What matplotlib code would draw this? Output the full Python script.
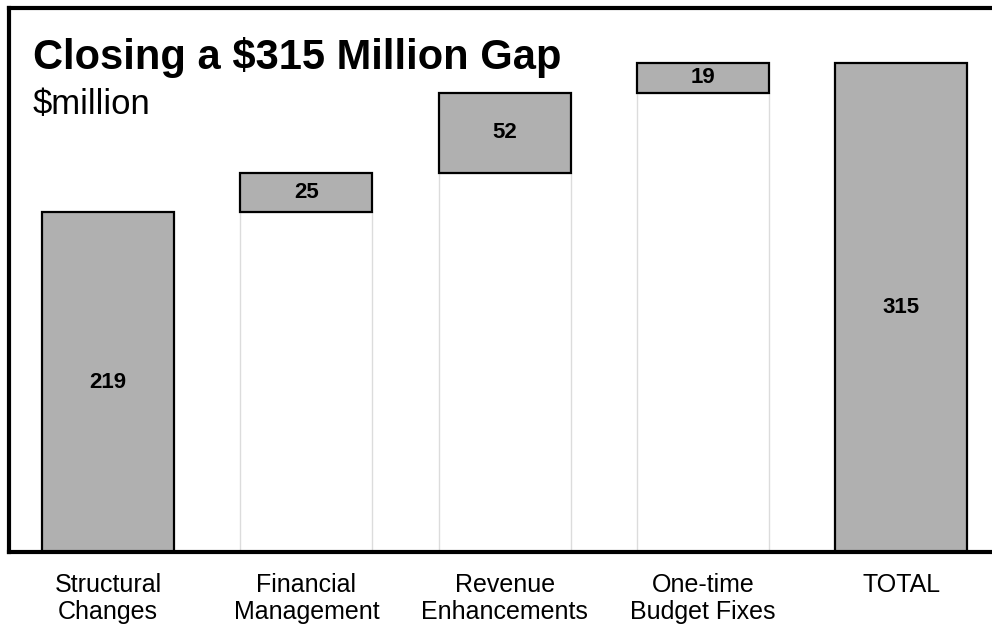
import matplotlib.pyplot as plt
import numpy as np

plt.rcParams['font.family'] = ['Liberation Sans', 'DejaVu Sans']

categories = ['Structural\nChanges', 'Financial\nManagement', 'Revenue\nEnhancements',
              'One-time\nBudget Fixes', 'TOTAL']
steps = [219, 25, 52, 19]
total = 315

# waterfall: floating bars sit on the running sum of the earlier steps
bases = np.concatenate([[0], np.cumsum(steps)[:-1]])
heights = steps + [total]
bottoms = list(bases) + [0]
x = np.arange(len(categories))

fig = plt.figure(figsize=(9.92, 6.28), dpi=100)
ax = fig.add_axes([9 / 992, 76 / 628, 991.25 / 992, 544 / 628])

# faint outlined "invisible" bars under the floating steps
ax.bar(x[1:4], bases[1:], width=0.667, color='white', edgecolor='#dcdcdc', linewidth=1.0, zorder=1)
ax.bar(x, heights, bottom=bottoms, width=0.667, color='#b0b0b0', edgecolor='black',
       linewidth=1.6, zorder=2)

for xi, h, b in zip(x, heights, bottoms):
    ax.text(xi, b + h / 2, str(h), ha='center', va='center', fontsize=16, fontweight='bold', zorder=3)

ax.set_xlim(-0.5, 4.5)
ax.set_ylim(0, 350.5)
ax.set_yticks([])
ax.set_xticks(x)
ax.set_xticklabels(categories, fontsize=18, linespacing=1.15)
ax.tick_params(axis='x', length=0, pad=15)
for side in ['left', 'top', 'bottom', 'right']:
    ax.spines[side].set_linewidth(3)

fig.text(33 / 992, 559 / 628, 'Closing a $315 Million Gap', fontsize=30, fontweight='bold',
         ha='left', va='baseline')
fig.text(33 / 992, 514 / 628, '$million', fontsize=25, ha='left', va='baseline')

fig.savefig('out.png', dpi=100)
